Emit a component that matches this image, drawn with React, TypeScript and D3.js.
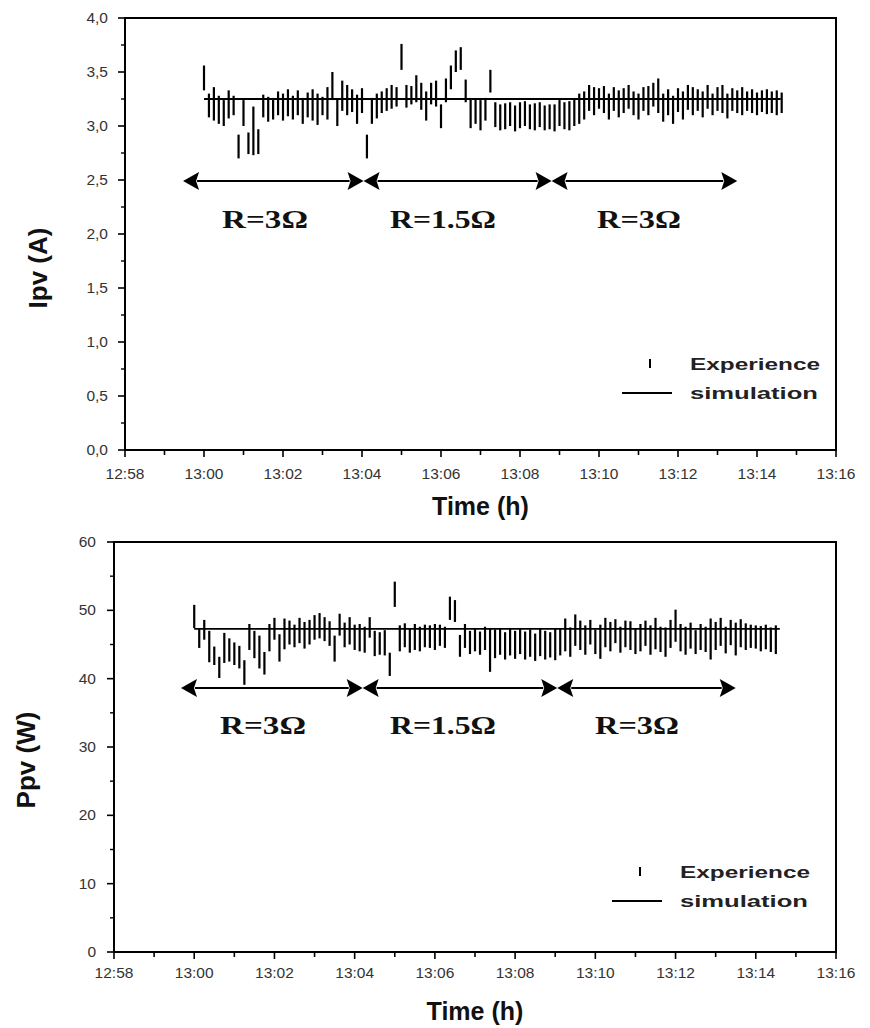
import React from "react";
import * as d3 from "d3";

// ---- Data ----
// experiment sampled every STEP_S seconds from 13:00
const STEP_S = 7.5;
const ipvLow = [3.33,3.08,3.05,3.02,3.00,3.07,3.10,2.70,3.00,2.74,2.73,2.74,3.08,3.04,3.06,3.10,3.05,3.09,3.06,3.10,3.02,3.08,3.05,3.01,3.10,3.06,3.24,3.00,3.14,3.10,3.13,3.02,3.12,2.70,3.02,3.07,3.12,3.14,3.16,3.18,3.52,3.17,3.20,3.22,3.15,3.05,3.20,3.18,2.98,3.22,3.34,3.50,3.52,3.22,2.98,3.02,2.96,3.05,3.31,2.99,2.96,2.97,3.00,2.95,2.98,3.00,2.97,2.96,2.99,2.96,2.97,2.95,3.00,2.97,2.96,3.00,3.02,3.06,3.14,3.10,3.16,3.12,3.06,3.14,3.08,3.12,3.16,3.10,3.06,3.14,3.10,3.18,3.12,3.04,3.10,3.02,3.13,3.06,3.15,3.10,3.14,3.08,3.16,3.10,3.14,3.12,3.07,3.14,3.12,3.10,3.14,3.12,3.10,3.13,3.11,3.12,3.10,3.12];
const ipvHigh = [3.56,3.30,3.36,3.28,3.24,3.33,3.28,2.92,3.24,2.94,3.18,2.97,3.29,3.27,3.26,3.32,3.30,3.34,3.28,3.33,3.26,3.31,3.34,3.30,3.27,3.36,3.50,3.25,3.42,3.38,3.34,3.29,3.35,2.92,3.26,3.30,3.32,3.35,3.38,3.36,3.76,3.38,3.37,3.47,3.40,3.32,3.40,3.42,3.20,3.44,3.56,3.70,3.73,3.43,3.26,3.25,3.24,3.26,3.52,3.22,3.20,3.21,3.22,3.19,3.22,3.23,3.20,3.21,3.22,3.19,3.20,3.20,3.24,3.22,3.23,3.25,3.30,3.32,3.38,3.36,3.35,3.37,3.30,3.36,3.33,3.35,3.38,3.32,3.30,3.36,3.37,3.40,3.44,3.30,3.34,3.28,3.35,3.32,3.38,3.36,3.34,3.32,3.38,3.30,3.36,3.38,3.30,3.35,3.33,3.36,3.32,3.34,3.31,3.33,3.34,3.32,3.33,3.31];

const ppvLow = [47.4,44.5,45.7,42.4,42.0,40.1,42.3,42.5,42.0,41.5,39.1,44.2,43.0,41.5,40.6,44.0,45.7,42.5,44.3,45.0,44.6,45.2,44.4,45.0,45.7,45.9,45.5,44.8,42.5,46.3,44.6,45.0,44.2,44.0,43.8,46.0,43.3,43.5,43.4,40.4,50.5,44.0,44.6,43.8,44.2,44.0,44.6,44.5,44.2,44.8,44.5,48.6,48.3,43.2,44.5,43.6,44.0,43.5,44.2,41.0,43.0,43.5,42.8,43.4,42.9,43.6,42.8,43.2,42.6,43.3,42.8,43.1,42.7,43.4,44.0,43.2,44.8,44.2,43.5,45.0,43.6,42.9,44.6,44.0,45.2,43.8,44.6,44.2,43.6,44.0,44.8,43.5,44.3,43.9,43.2,44.5,45.4,44.0,43.5,44.4,43.6,44.2,43.9,42.8,44.2,44.8,43.7,44.9,43.4,44.6,44.2,44.5,44.4,44.0,44.3,43.9,43.6];
const ppvHigh = [50.8,47.4,48.6,47.0,44.7,43.2,46.7,45.9,45.3,44.8,42.7,48.0,47.0,46.3,43.9,48.0,48.9,46.5,48.8,48.5,47.9,48.9,48.3,48.6,49.3,49.6,49.0,48.4,46.3,49.5,48.2,49.0,47.9,48.0,47.6,49.0,47.0,46.8,47.1,43.8,54.2,47.8,48.1,47.4,48.0,47.6,47.9,47.8,48.0,47.9,47.6,52.0,51.5,46.4,48.0,47.0,47.4,46.9,47.6,47.4,47.2,47.4,46.8,47.3,47.0,47.4,46.9,47.2,46.6,47.4,47.0,46.8,47.3,47.4,48.8,47.5,49.4,48.5,47.8,48.6,47.2,47.9,48.9,48.3,48.7,47.6,48.5,48.4,47.3,48.0,48.5,47.8,48.9,47.6,47.5,48.6,50.1,48.0,47.6,48.2,47.1,48.0,47.6,48.8,48.3,48.9,47.6,48.6,48.2,48.7,48.1,47.9,47.8,47.7,47.9,47.5,47.8];

// simulation (minutes after 12:58)
const simTime = [2, 16.6];
const ipvSim = [3.25, 3.25];
const ppvSim = [47.3, 47.3];

const xTickLabels = ["12:58","13:00","13:02","13:04","13:06","13:08","13:10","13:12","13:14","13:16"];
const ipvTicks = [0,0.5,1,1.5,2,2.5,3,3.5,4];
const ppvTicks = [0,10,20,30,40,50,60];
const regionLabels = ["R=3\u03A9","R=1.5\u03A9","R=3\u03A9"];
// arrow segment boundaries in minutes after 12:58 (per panel)
const ipvArrows = [1.47, 6.04, 10.8, 15.5];
const ppvArrows = [1.67, 6.2, 11.05, 15.5];

const SANS = "Arial, 'Liberation Sans', sans-serif";
const SERIF = "'Times New Roman', 'Liberation Serif', serif";

type PanelProps = {
  left: number; right: number; top: number; bottom: number;
  yMax: number; yTicks: number[]; yMinorStep: number; fmt: (v: number) => string;
  low: number[]; high: number[]; sim: number[]; arrows: number[];
  yTitle: string; yTitleX: number; yTitleY: number; xTitle: string; xTitleY: number;
  arrowY: number; labelY: number; labelCenters: number[]; labelWidths: number[];
  legX: number; legY: number; xLabelY: number; yLabelRight: number;
};

function Panel(p: PanelProps) {
  const x = d3.scaleLinear().domain([0, 18]).range([p.left, p.right]);
  const y = d3.scaleLinear().domain([0, p.yMax]).range([p.bottom, p.top]);
  const minorY = d3.range(0, p.yMax + 1e-9, p.yMinorStep).filter(v => !p.yTicks.some(t => Math.abs(t - v) < 1e-9));
  const line = d3.line<number>().x((_, i) => x(simTime[i])).y(d => y(d));
  const tMin = (i: number) => 2 + (i * STEP_S) / 60;
  const ah = 14, aw = 9;
  return (
    <g>
      <rect x={p.left} y={p.top} width={p.right - p.left} height={p.bottom - p.top} fill="none" stroke="#000" strokeWidth={2} />
      {/* x ticks */}
      {d3.range(0, 19).map(m => (
        <line key={"xt" + m} x1={x(m)} x2={x(m)} y1={p.bottom} y2={p.bottom + (m % 2 === 0 ? 7 : 5)} stroke="#000" strokeWidth={1.6} />
      ))}
      {xTickLabels.map((l, i) => (
        <text key={"xl" + i} x={x(i * 2)} y={p.xLabelY} textAnchor="middle" fontFamily={SANS} fontSize={15.5} fill="#333">{l}</text>
      ))}
      {/* y ticks */}
      {p.yTicks.map(t => (
        <g key={"yt" + t}>
          <line x1={p.left - 7} x2={p.left} y1={y(t)} y2={y(t)} stroke="#000" strokeWidth={1.6} />
          <text x={p.yLabelRight} y={y(t) + 5} textAnchor="end" fontFamily={SANS} fontSize={15.5} fill="#333">{p.fmt(t)}</text>
        </g>
      ))}
      {minorY.map(t => (
        <line key={"ym" + t} x1={p.left - 4} x2={p.left} y1={y(t)} y2={y(t)} stroke="#000" strokeWidth={1.4} />
      ))}
      {/* titles */}
      <text x={p.left + (p.right - p.left) / 2} y={p.xTitleY} textAnchor="middle" fontFamily={SANS} fontWeight="bold" fontSize={25} fill="#111">{p.xTitle}</text>
      <text transform={`translate(${p.yTitleX},${p.yTitleY}) rotate(-90)`} textAnchor="middle" fontFamily={SANS} fontWeight="bold" fontSize={26} fill="#111">{p.yTitle}</text>
      {/* simulation */}
      <path d={line(p.sim) || ""} fill="none" stroke="#000" strokeWidth={1.8} />
      {/* experience bars */}
      {p.low.map((lo, i) => (
        <line key={"b" + i} x1={x(tMin(i))} x2={x(tMin(i))} y1={y(lo)} y2={y(p.high[i])} stroke="#000" strokeWidth={2.2} />
      ))}
      {/* region arrows */}
      {[0, 1, 2].map(k => {
        const a = x(p.arrows[k]), b = x(p.arrows[k + 1]);
        return (
          <g key={"ar" + k}>
            <line x1={a + ah} x2={b - ah} y1={p.arrowY} y2={p.arrowY} stroke="#000" strokeWidth={2} />
            <path d={`M${a},${p.arrowY} L${a + ah + 2},${p.arrowY - aw} L${a + ah - 1},${p.arrowY} L${a + ah + 2},${p.arrowY + aw} Z`} fill="#000" />
            <path d={`M${b},${p.arrowY} L${b - ah - 2},${p.arrowY - aw} L${b - ah + 1},${p.arrowY} L${b - ah - 2},${p.arrowY + aw} Z`} fill="#000" />
          </g>
        );
      })}
      {regionLabels.map((l, k) => (
        <text key={"rl" + k} x={p.labelCenters[k]} y={p.labelY} textAnchor="middle" fontFamily={SERIF} fontWeight="bold" fontSize={26} fill="#111"
          textLength={p.labelWidths[k]} lengthAdjust="spacingAndGlyphs">{l}</text>
      ))}
      {/* legend */}
      <line x1={p.legX + 28} x2={p.legX + 28} y1={p.legY - 11} y2={p.legY - 2} stroke="#000" strokeWidth={2} />
      <text x={p.legX + 68} y={p.legY} fontFamily={SANS} fontWeight="bold" fontSize={17} fill="#222" textLength={130} lengthAdjust="spacingAndGlyphs">Experience</text>
      <line x1={p.legX} x2={p.legX + 50} y1={p.legY + 23} y2={p.legY + 23} stroke="#000" strokeWidth={1.8} />
      <text x={p.legX + 68} y={p.legY + 29} fontFamily={SANS} fontWeight="bold" fontSize={17} fill="#222" textLength={128} lengthAdjust="spacingAndGlyphs">simulation</text>
    </g>
  );
}

export default function App() {
  const fmtI = (v: number) => v.toFixed(1).replace(".", ",");
  const fmtP = (v: number) => String(v);
  return (
    <svg width={870} height={1028} style={{ position: "absolute", left: 0, top: 0, background: "#fff" }}>
      <rect width={870} height={1028} fill="#fff" />
      <Panel left={125} right={836} top={18} bottom={450} yMax={4} yTicks={ipvTicks} yMinorStep={0.25} fmt={fmtI}
        low={ipvLow} high={ipvHigh} sim={ipvSim} arrows={ipvArrows}
        yTitle="Ipv (A)" yTitleX={47} yTitleY={268} xTitle="Time (h)" xTitleY={515}
        arrowY={181} labelY={228} labelCenters={[265, 443, 639]} labelWidths={[86, 106, 84]}
        legX={622} legY={370} xLabelY={479} yLabelRight={108} />
      <Panel left={114} right={836} top={542} bottom={952} yMax={60} yTicks={ppvTicks} yMinorStep={5} fmt={fmtP}
        low={ppvLow} high={ppvHigh} sim={ppvSim} arrows={ppvArrows}
        yTitle="Ppv (W)" yTitleX={35} yTitleY={760} xTitle="Time (h)" xTitleY={1020}
        arrowY={688} labelY={734} labelCenters={[263, 443, 637]} labelWidths={[86, 106, 84]}
        legX={612} legY={878} xLabelY={978} yLabelRight={96} />
    </svg>
  );
}
